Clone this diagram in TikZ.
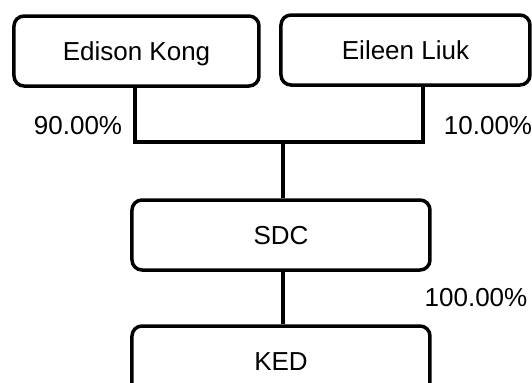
\documentclass[tikz,border=0pt]{standalone}
\usepackage{fontspec}
\setmainfont{Liberation Sans}
\begin{document}
\begin{tikzpicture}[x=0.5pt, y=-0.5pt, font=\fontsize{13}{15}\selectfont]
    \tikzstyle{holder} = [rectangle, rounded corners=5pt, minimum height=35pt, text height=9.4pt, text depth=0pt, text centered, draw=black, line width=1.75pt]
    \tikzstyle{share} = [inner sep=0pt, text height=9.4pt, text depth=0pt]
    \tikzstyle{link} = [line width=1.75pt]
    \useasboundingbox (0, 0) rectangle (532, 382);
    \node (edison) [holder, minimum width=122.5pt] at (136.5, 51) {Edison Kong};
    \node (eileen) [holder, minimum width=124.5pt] at (405.5, 50) {Eileen Liuk};
    \node (sdc) [holder, minimum width=149pt] at (281, 235) {SDC};
    \node (ked) [holder, minimum width=149pt] at (281, 361) {KED};
    \coordinate (join) at (283, 142);
    \node (p1) [share] at (78, 125) {90.00\%};
    \node (p2) [share] at (488, 125) {10.00\%};
    \node (p3) [share] at (476, 297) {100.00\%};
    \draw[link] ([xshift=-0.75pt]edison.south) |- (join) -| ([xshift=8.75pt]eileen.south);
    \draw[link] (join) -- (join |- sdc.north);
    \draw[link] (join |- sdc.south) -- (join |- ked.north);
  \end{tikzpicture}
\end{document}
